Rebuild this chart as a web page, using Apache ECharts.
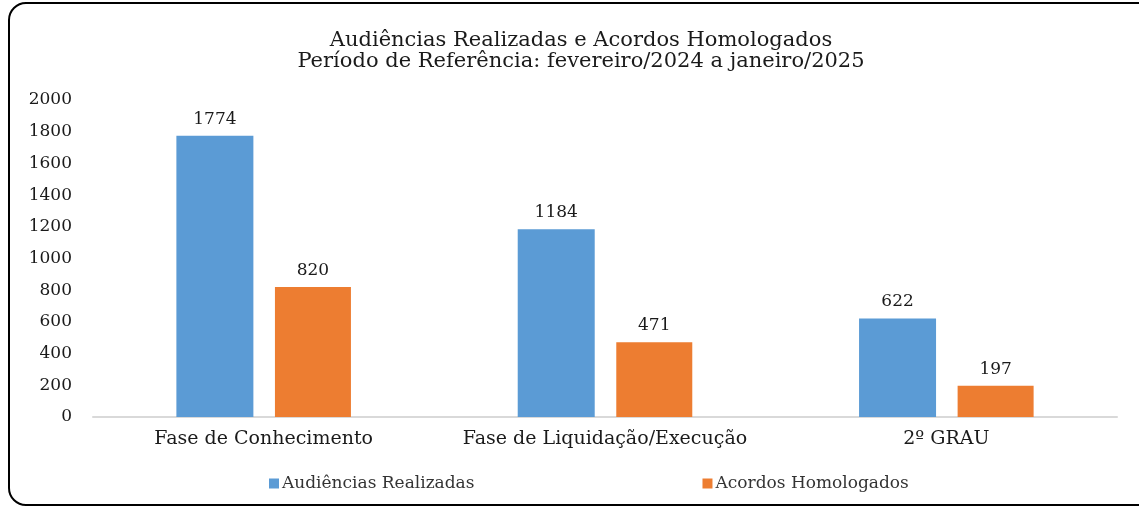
<!DOCTYPE html>
<html>
<head>
<meta charset="utf-8">
<script src="https://cdn.jsdelivr.net/npm/echarts@6/dist/echarts.min.js"></script>
<style>
  html, body { margin: 0; padding: 0; background: #fff; }
  #frame {
    position: absolute; left: 8px; top: 2px; width: 1150px; height: 504px;
    border: 2px solid #000; border-radius: 18px; box-sizing: border-box;
  }
  #chart { position: absolute; left: 0; top: 0; width: 1139px; height: 510px; }
</style>
</head>
<body>
<div id="frame"></div>
<div id="chart"></div>
<script>
// values
const categories = ["Fase de Conhecimento", "Fase de Liquidação/Execução", "2º GRAU"]
const audiencias = [1774, 1184, 622]
const acordos = [820, 471, 197]
const seriesNames = ["Audiências Realizadas", "Acordos Homologados"]
const titleLines = ["Audiências Realizadas e Acordos Homologados", "Período de Referência: fevereiro/2024 a janeiro/2025"]

// the source text is a wide serif, DejaVu Serif is closest in width
const serif = "'DejaVu Serif', 'Liberation Serif', serif"

const chart = echarts.init(document.getElementById("chart"))

const barLabel = {
  show: true,
  position: "top",
  distance: 8,
  fontFamily: serif,
  fontSize: 17,
  color: "#1a1a1a"
}

chart.setOption({
  animation: false,
  title: {
    text: titleLines.join("\n"),
    left: 576,
    textAlign: "center",
    top: 25,
    textStyle: { fontFamily: serif, fontSize: 21, fontWeight: "normal", color: "#1a1a1a", lineHeight: 21 }
  },
  legend: {
    data: seriesNames,
    left: 264,
    top: 470,
    itemWidth: 10,
    itemHeight: 10,
    itemGap: 228,
    icon: "rect",
    textStyle: { fontFamily: serif, fontSize: 17, color: "#333", padding: [0, 0, 0, -2] }
  },
  grid: { left: 93, right: 22, top: 100, bottom: 93 },
  xAxis: {
    type: "category",
    data: categories,
    axisLine: { lineStyle: { color: "#d9d9d9", width: 2 } },
    axisTick: { show: false },
    axisLabel: { interval: 0, fontFamily: serif, fontSize: 19, color: "#1a1a1a", margin: 13 }
  },
  yAxis: {
    type: "value",
    min: 0,
    max: 2000,
    interval: 200,
    splitLine: { show: false },
    axisLine: { show: false },
    axisTick: { show: false },
    axisLabel: {
      fontFamily: serif, fontSize: 17, color: "#1a1a1a", margin: 21,
      formatter: (v) => String(v)
    }
  },
  series: [
    {
      name: seriesNames[0],
      type: "bar",
      data: audiencias,
      barWidth: 77,
      barGap: "28%",
      itemStyle: { color: "#5b9bd5" },
      label: barLabel
    },
    {
      name: seriesNames[1],
      type: "bar",
      data: acordos,
      barWidth: 76,
      itemStyle: { color: "#ed7d31" },
      label: barLabel
    }
  ]
})
</script>
</body>
</html>
